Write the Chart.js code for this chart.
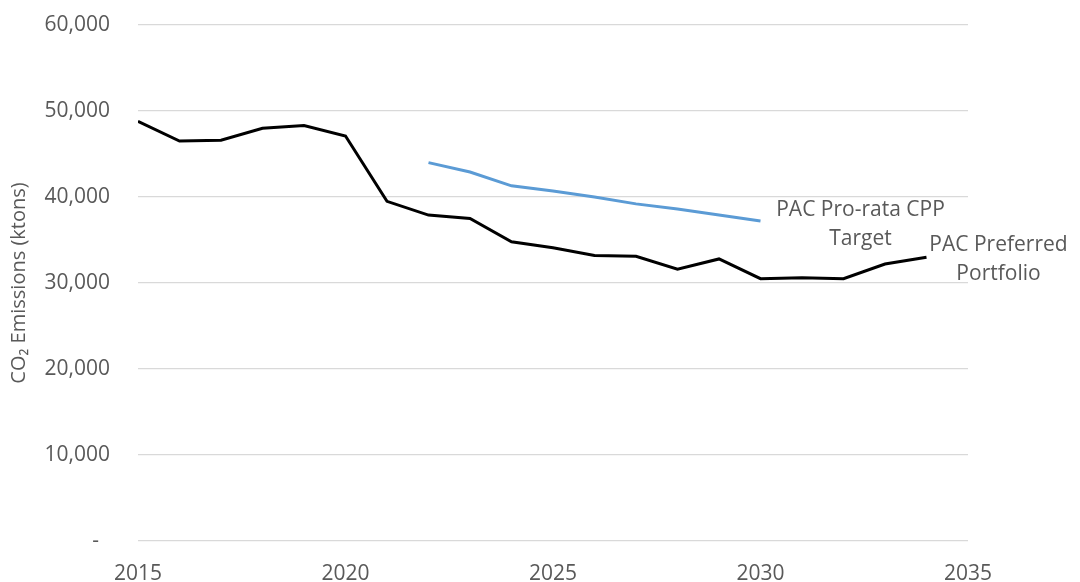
<!DOCTYPE html>
<html>
<head>
<meta charset="utf-8">
<script src="https://cdn.jsdelivr.net/npm/chart.js@4.4.0/dist/chart.umd.min.js"></script>
<style>
  html, body { margin: 0; padding: 0; background: #fff; }
  #wrap { width: 1080px; height: 582px; }
</style>
</head>
<body>
<div id="wrap"><canvas id="chart" width="1080" height="582"></canvas></div>
<script>
// data (ktons CO2)
const portfolioYears = [2015, 2016, 2017, 2018, 2019, 2020, 2021, 2022, 2023, 2024,
                        2025, 2026, 2027, 2028, 2029, 2030, 2031, 2032, 2033, 2034];
const portfolioValues = [48800, 46500, 46600, 48000, 48300, 47100, 39500, 37900, 37500, 34800,
                         34100, 33200, 33100, 31600, 32800, 30500, 30600, 30500, 32200, 33000];
const targetYears = [2022, 2023, 2024, 2025, 2026, 2027, 2028, 2029, 2030];
const targetValues = [44000, 42900, 41300, 40700, 40000, 39200, 38600, 37900, 37200];
const portfolioLabel = ['PAC Preferred', 'Portfolio'];
const targetLabel = ['PAC Pro-rata CPP', 'Target'];

const fontFamily = "'Open Sans', 'Liberation Sans', sans-serif";
const textColor = '#595959';

function toPoints(xs, ys) {
  return xs.map((x, i) => ({ x: x, y: ys[i] }));
}

// end-of-line labels, placed from the last point of each series
const endLabels = {
  id: 'endLabels',
  afterDatasetsDraw(chart) {
    const ctx = chart.ctx;
    ctx.save();
    ctx.font = '21px ' + fontFamily;
    ctx.fillStyle = textColor;
    ctx.textAlign = 'center';
    ctx.textBaseline = 'middle';
    chart.data.datasets.forEach((ds, i) => {
      const meta = chart.getDatasetMeta(i);
      const last = meta.data[meta.data.length - 1];
      const o = ds.labelOffset;
      ds.endLabel.forEach((line, j) => {
        ctx.fillText(line, last.x + o.dx, last.y + o.dy + j * 29);
      });
    });
    ctx.restore();
  }
};

new Chart(document.getElementById('chart'), {
  type: 'line',
  data: {
    datasets: [{
      label: 'PAC Preferred Portfolio',
      data: toPoints(portfolioYears, portfolioValues),
      borderColor: '#000000',
      borderWidth: 3,
      pointRadius: 0,
      tension: 0,
      endLabel: portfolioLabel,
      labelOffset: { dx: 72, dy: -12 }
    }, {
      label: 'PAC Pro-rata CPP Target',
      data: toPoints(targetYears, targetValues),
      borderColor: '#5b9bd5',
      borderWidth: 3,
      pointRadius: 0,
      tension: 0,
      endLabel: targetLabel,
      labelOffset: { dx: 100, dy: -11 }
    }]
  },
  options: {
    responsive: false,
    animation: false,
    layout: { padding: { top: 25, right: 112, bottom: 0, left: 0 } },
    plugins: {
      legend: { display: false },
      tooltip: { enabled: false }
    },
    scales: {
      x: {
        type: 'linear',
        min: 2015,
        max: 2035,
        border: { display: false },
        grid: { display: false },
        ticks: {
          stepSize: 5,
          color: textColor,
          font: { family: fontFamily, size: 21 },
          padding: 12,
          callback: v => String(v)
        },
        afterFit: s => { s.height = 41; }
      },
      y: {
        min: 0,
        max: 60000,
        border: { display: false },
        grid: { color: '#d9d9d9', lineWidth: 1.3, drawTicks: false },
        ticks: {
          stepSize: 10000,
          color: textColor,
          font: { family: fontFamily, size: 21 },
          padding: 28,
          callback: v => v === 0 ? '-  ' : v.toLocaleString('en-US')
        },
        title: {
          display: true,
          text: 'CO\u2082 Emissions (ktons)',
          color: textColor,
          font: { family: fontFamily, size: 20 },
          padding: { top: 7, bottom: 0 }
        },
        afterFit: s => { s.width = 138; s.paddingTop = 0; s.paddingBottom = 0; }
      }
    }
  },
  plugins: [endLabels]
});
</script>
</body>
</html>
